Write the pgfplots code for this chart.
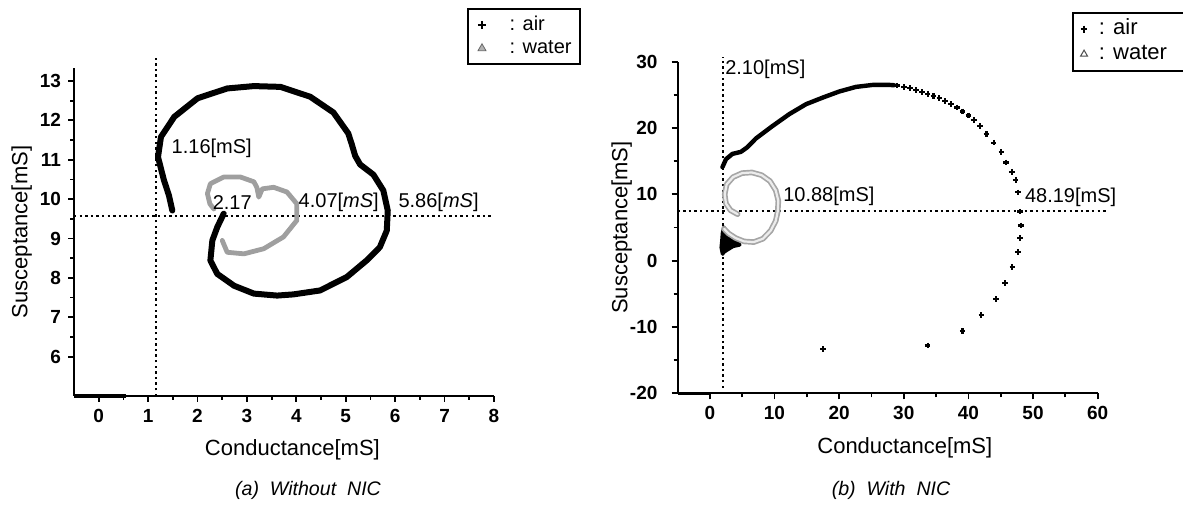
\documentclass[border=0pt]{standalone}
\usepackage{fontspec}
\setmainfont{Liberation Sans}
\usepackage{pgfplots}
\pgfplotsset{compat=1.18}

\pgfplotsset{
  nicaxis/.style={
    scale only axis, anchor=south west,
    axis lines=left, axis line style={-, line width=1pt},
    tick align=outside, tick style={black, line width=0.9pt},
    major tick length=3pt, minor tick length=2pt, minor tick num=1,
    tick label style={font=\fontsize{9.5}{11}\selectfont\bfseries},
    /pgf/number format/assume math mode=true,
    label style={font=\fontsize{11}{13}\selectfont},
    clip=false,
    legend style={draw=black, line width=1pt, anchor=north west,
      inner sep=2pt, legend cell align=left},
  },
}
\tikzset{
  guide/.style={black, line width=1pt, dash pattern=on 1.2pt off 1.6pt},
  note/.style={anchor=west, inner sep=0pt, font=\fontsize{10}{12}\selectfont},
}

\begin{document}
\begin{tikzpicture}
\useasboundingbox (0,0) rectangle (591.5pt,256pt);

% (a) without NIC
\begin{axis}[nicaxis,
  at={(37pt,58pt)}, width=210pt, height=164pt,
  xmin=-0.5, xmax=8, ymin=5, ymax=13.33,
  xtick={0,1,...,8}, ytick={6,7,...,13},
  xlabel={Conductance[mS]}, ylabel={Susceptance[mS]},
  x label style={at={(axis description cs:0.52,-0.165)}, anchor=center},
  y label style={at={(axis description cs:-0.1245,0.5)}, anchor=center},
  legend style={at={(axis description cs:0.935,1.182)},
    font=\fontsize{10}{12}\selectfont,
    nodes={inner ysep=1pt, inner xsep=2pt, text height=7.5pt, text depth=2.2pt}},
  legend image code/.code={\draw[#1] plot coordinates {(4.65pt,0pt)}; \path (0pt,0pt) (16pt,0pt);},
]
\addlegendimage{only marks, mark=+, mark size=2pt, line width=1pt, black}
\addlegendentry{\makebox[31pt][l]{: air}}
\addlegendimage{only marks, mark=triangle*, mark size=2.3pt, line width=0.4pt, draw=gray!80!black, fill=gray!60}
\addlegendentry{\makebox[31pt][l]{: water}}

\addplot[guide, forget plot] coordinates {(1.16,5) (1.16,13.58)};
\addplot[guide, forget plot] coordinates {(-0.5,9.58) (7.94,9.58)};
\addplot[black, line width=1.6pt, forget plot] coordinates {(-0.5,5) (0.55,5)};

% air
\addplot[black, line width=3pt, line cap=round, line join=round, forget plot] coordinates {
 (1.49,9.71) (1.42,10.1) (1.32,10.48) (1.2,11.07) (1.26,11.58) (1.53,12.09)
 (2.0,12.56) (2.6,12.81) (3.14,12.87) (3.68,12.85) (4.28,12.6) (4.75,12.2)
 (5.05,11.67) (5.12,11.4) (5.19,11.1) (5.29,10.88) (5.56,10.62) (5.76,10.22)
 (5.85,9.71) (5.83,9.2) (5.69,8.78) (5.42,8.44) (5.02,8.02) (4.48,7.68)
 (3.94,7.58) (3.61,7.55) (3.14,7.6) (2.74,7.8) (2.4,8.1) (2.26,8.44)
 (2.3,8.95) (2.4,9.29) (2.53,9.63)
};
% water
\addplot[gray!75, line width=2.4pt, line cap=round, line join=round, forget plot] coordinates {
 (2.5,8.95) (2.6,8.65) (2.94,8.61) (3.34,8.74) (3.74,9.04) (4.01,9.46)
 (4.01,9.88) (3.81,10.18) (3.54,10.3) (3.31,10.26) (3.24,10.05) (3.2,10.3)
 (3.14,10.44) (2.87,10.56) (2.53,10.56) (2.26,10.39) (2.2,10.14) (2.25,9.88)
 (2.33,9.75)
};

\node[note] at (axis cs:1.47,11.28) {1.16[mS]};
\node[note] at (axis cs:2.30,9.91) {2.17};
\node[note] at (axis cs:4.04,9.91) {4.07[\textit{mS}]};
\node[note] at (axis cs:6.06,9.91) {5.86[\textit{mS}]};
\end{axis}

% (b) with NIC
\begin{axis}[nicaxis,
  at={(338.75pt,59.35pt)}, width=210.1pt, height=165.8pt,
  xmin=-5, xmax=60, ymin=-20, ymax=30,
  xtick={0,10,...,60}, ytick={-20,-10,...,30},
  xlabel={Conductance[mS]}, ylabel={Susceptance[mS]},
  yticklabel style={xshift=-3.5pt},
  x label style={at={(axis description cs:0.541,-0.165)}, anchor=center},
  y label style={at={(axis description cs:-0.133,0.5)}, anchor=center},
  legend style={at={(axis description cs:0.938,1.151)},
    font=\fontsize{11}{12.5}\selectfont,
    nodes={inner ysep=1pt, inner xsep=2pt, text height=8pt, text depth=2.5pt}},
  legend image code/.code={\draw[#1] plot coordinates {(3.2pt,0pt)}; \path (0pt,0pt) (8.15pt,0pt);},
]
\addlegendimage{only marks, mark=+, mark size=1.7pt, line width=1pt, black}
\addlegendentry{\makebox[38.8pt][l]{: air}}
\addlegendimage{only marks, mark=triangle, mark size=2pt, line width=0.5pt, draw=gray!60!black}
\addlegendentry{\makebox[38.8pt][l]{: water}}

\addplot[guide, forget plot] coordinates {(2.1,-19.2) (2.1,30.7)};
\addplot[guide, forget plot] coordinates {(-5,7.5) (61.7,7.5)};
\addplot[black, line width=1.6pt, forget plot] coordinates {(-5,-20) (0,-20)};

% air, low-frequency cluster
\addplot[black, fill=black, line width=2pt, line join=round, forget plot] coordinates {
 (2.0,1.0) (1.8,2.0) (1.9,3.0) (2.0,4.2) (2.2,5.0) (2.4,4.0) (3.0,3.2)
 (3.8,2.9) (4.6,2.4) (3.6,2.2) (2.6,1.6) (2.0,1.2)
} -- cycle;
% air, dense part of the arc
\addplot[black, line width=2.2pt, line cap=round, line join=round, forget plot] coordinates {
 (1.95,14.1) (2.5,15.3) (3.5,16.1) (4.8,16.4) (5.8,17.1) (7.1,18.4) (9.7,20.3)
 (12.3,22.1) (14.9,23.6) (17.5,24.6) (20.0,25.5) (22.6,26.2) (25.2,26.5)
 (27.8,26.5) (28.5,26.45)
};
% air, sparse points
\addplot[only marks, mark=+, mark size=1.4pt, line width=1.1pt, black, forget plot] coordinates {
 (29.0,26.4) (30.0,26.2) (31.0,26.0) (31.9,25.7) (32.8,25.4) (33.7,25.1)
 (34.6,24.8) (35.5,24.5) (36.4,24.1) (37.3,23.6) (38.2,23.1) (39.1,22.5)
 (40.0,21.9) (40.9,21.2) (41.8,20.3) (42.8,19.1) (43.9,17.8) (45.1,16.35)
 (45.8,14.8) (46.7,13.4) (47.3,12.2) (47.7,10.3) (47.95,7.4) (48.1,5.3)
 (47.95,3.4) (47.7,1.27) (46.8,-1.0) (45.7,-3.4) (44.3,-5.8) (42.0,-8.2)
 (39.1,-10.6) (33.7,-12.8) (17.5,-13.3)
};
% water
\addplot[gray!70, line width=2.8pt, line cap=round, line join=round, forget plot] coordinates {
 (4.3,7.0) (3.2,7.6) (2.5,8.6) (2.3,10.0) (2.6,11.5) (3.6,12.6) (5.0,13.2)
 (6.5,13.3) (8.0,12.9) (9.3,12.0) (10.2,10.6) (10.6,9.0) (10.5,7.4) (10.2,6.0)
 (9.4,4.5) (8.2,3.3) (6.8,2.8) (5.3,2.9) (4.0,3.4) (2.9,4.1) (2.2,4.8)
};
\addplot[gray!15, line width=1.1pt, line cap=round, line join=round, forget plot] coordinates {
 (4.3,7.0) (3.2,7.6) (2.5,8.6) (2.3,10.0) (2.6,11.5) (3.6,12.6) (5.0,13.2)
 (6.5,13.3) (8.0,12.9) (9.3,12.0) (10.2,10.6) (10.6,9.0) (10.5,7.4) (10.2,6.0)
 (9.4,4.5) (8.2,3.3) (6.8,2.8) (5.3,2.9) (4.0,3.4) (2.9,4.1) (2.2,4.8)
};

\node[note] at (axis cs:2.33,28.9) {2.10[mS]};
\node[note] at (axis cs:11.3,9.7) {10.88[mS]};
\node[note] at (axis cs:48.7,9.6) {48.19[mS]};
\end{axis}

\node[font=\fontsize{9.8}{11}\selectfont\itshape] at (154pt,11pt) {(a)\ \ Without\ \ NIC};
\node[font=\fontsize{9.8}{11}\selectfont\itshape] at (445.5pt,11pt) {(b)\ \ With\ \ NIC};
\end{tikzpicture}
\end{document}
